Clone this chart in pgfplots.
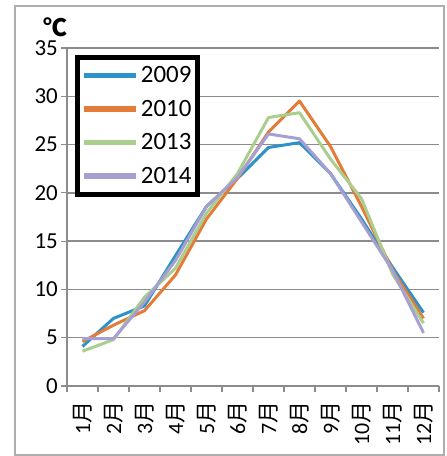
\documentclass[border=0pt]{standalone}
\usepackage{pgfplots}
\pgfplotsset{compat=1.18}
\usepackage{fontspec}
\setmainfont{Carlito}
\newfontfamily\cjk{Noto Sans CJK JP}

\definecolor{c2009}{RGB}{44,146,200}
\definecolor{c2010}{RGB}{226,124,56}
\definecolor{c2013}{RGB}{170,206,142}
\definecolor{c2014}{RGB}{166,160,210}
\definecolor{gridgray}{RGB}{140,140,140}

\begin{document}
\begin{tikzpicture}
\useasboundingbox (-67bp,-70bp) rectangle (380bp,386bp);
% outer chart frame
\draw[gridgray!70, line width=1.2bp] (-52bp,-69bp) rectangle (377bp,380bp);
\begin{axis}[
  at={(0,0)}, anchor=south west,
  scale only axis,
  width=372bp, height=338bp,
  xmin=-0.5, xmax=11.5,
  ymin=0, ymax=35,
  ytick={0,5,...,35},
  xtick={0,...,11},
  xticklabels={1{\cjk 月},2{\cjk 月},3{\cjk 月},4{\cjk 月},5{\cjk 月},6{\cjk 月},7{\cjk 月},8{\cjk 月},9{\cjk 月},10{\cjk 月},11{\cjk 月},12{\cjk 月}},
  minor xtick={-0.5,0.5,...,11.5},
  xtick style={draw=none},
  minor x tick style={draw=gridgray, line width=1.2bp},
  y tick style={draw=gridgray, line width=1.2bp},
  tick align=outside,
  major tick length=6bp,
  minor tick length=6bp,
  ymajorgrids,
  grid style={gridgray, line width=1.3bp},
  axis x line*=bottom,
  axis y line*=left,
  axis line style={gridgray, line width=1.3bp, -},
  every axis plot/.append style={line width=3bp, line join=round},
  /pgf/number format/assume math mode=true,
  yticklabel style={font=\fontsize{23}{25}\selectfont, xshift=-2bp, inner sep=1bp},
  xticklabel style={font=\fontsize{22}{24}\selectfont, rotate=90, anchor=east, xshift=-6bp},
  legend style={
    at={(8bp,331bp)}, anchor=north west,
    draw=black, line width=5bp, fill=white,
    font=\fontsize{25}{27}\selectfont,
    row sep=12bp, inner xsep=4bp, inner ysep=7bp,
    /tikz/every even column/.append style={column sep=2bp},
  },
  legend cell align=left,
  legend image code/.code={\draw[#1, line width=5.5bp] (0bp,0bp) -- (52bp,0bp);},
]
\addplot[c2009] coordinates {(0,4.1) (1,7.0) (2,8.3) (3,13.5) (4,18.6) (5,21.5) (6,24.7) (7,25.2) (8,22.0) (9,17.3) (10,12.3) (11,7.6)};
\addplot[c2010] coordinates {(0,4.6) (1,6.3) (2,7.8) (3,11.5) (4,17.3) (5,21.5) (6,26.3) (7,29.5) (8,24.8) (9,18.6) (10,12.0) (11,7.0)};
\addplot[c2013] coordinates {(0,3.6) (1,4.8) (2,9.2) (3,12.2) (4,17.9) (5,22.0) (6,27.8) (7,28.3) (8,23.5) (9,19.4) (10,11.6) (11,6.5)};
\addplot[c2014] coordinates {(0,4.9) (1,4.9) (2,8.7) (3,13.0) (4,18.6) (5,21.6) (6,26.1) (7,25.6) (8,22.0) (9,17.0) (10,12.0) (11,5.5)};
\legend{2009,2010,2013,2014}
\end{axis}
\node[font=\cjk\bfseries\fontsize{24}{26}\selectfont, inner sep=0pt] at (-12bp,359bp) {℃};
\end{tikzpicture}
\end{document}
